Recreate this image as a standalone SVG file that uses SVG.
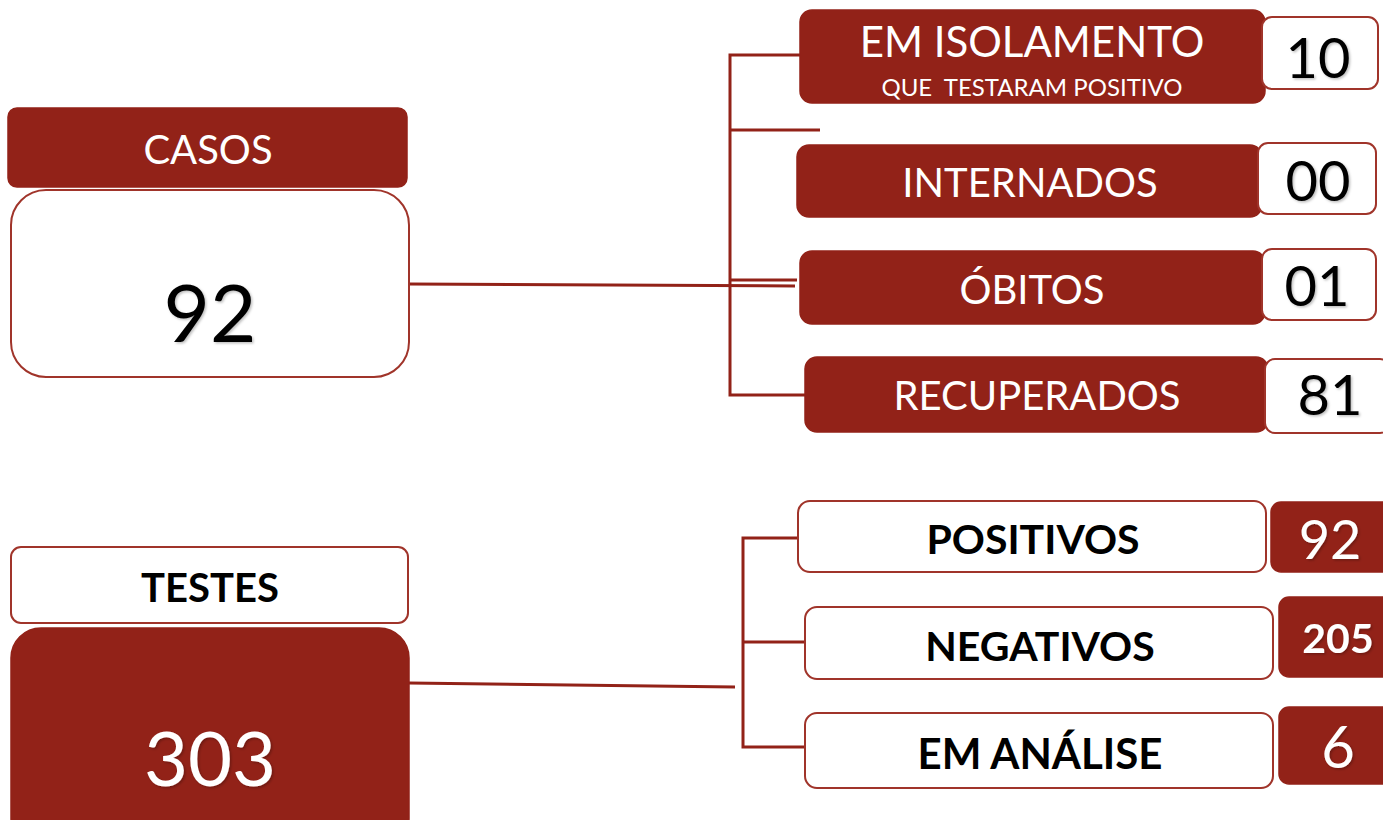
<svg xmlns="http://www.w3.org/2000/svg" width="1383" height="820" viewBox="0 0 1383 820">
<defs>
<filter id="sh" x="-10%" y="-10%" width="130%" height="130%">
<feDropShadow dx="1.5" dy="1.5" stdDeviation="1" flood-color="#000000" flood-opacity="0.25"/>
</filter>
</defs>
<style>
.red{fill:#922218;stroke:#922218;stroke-width:1.5}
.wht{fill:#ffffff;stroke:#a0342a;stroke-width:2}
.ln{stroke:#922218;stroke-width:3;fill:none}
.t{font-family:Lato,"Open Sans","Liberation Sans",sans-serif;text-anchor:middle}
.w{fill:#ffffff}
.k{fill:#000000}
.b{font-weight:bold}
.n{filter:url(#sh)}
</style>
<rect width="1383" height="820" fill="#ffffff"/>
<g id="connectors">
<path class="ln" d="M409,284 L795,286"/>
<path class="ln" d="M730,280 L797,280"/>
<path class="ln" d="M800,55 L730,55 L730,395 L805,395"/>
<path class="ln" d="M730,130 L820,130"/>
<path class="ln" d="M409,683 L735,687"/>
<path class="ln" d="M800,538 L743,538 L743,747 L805,747"/>
<path class="ln" d="M743,642 L805,642"/>
</g>
<g id="casos-header">
<rect class="red" x="8" y="108" width="399" height="79" rx="9"/>
<text class="t w" x="208" y="164" font-size="40">CASOS</text>
</g>
<g id="casos-value">
<rect class="wht" x="11" y="190" width="398" height="187" rx="35"/>
<text class="t k n" x="210" y="342" font-size="80">92</text>
</g>
<g id="isolamento">
<rect class="red" x="800" y="10" width="465" height="93" rx="12"/>
<text class="t w" x="1032" y="57" font-size="42">EM ISOLAMENTO</text>
<text class="t w" x="1032" y="96" font-size="24" xml:space="preserve">QUE  TESTARAM POSITIVO</text>
</g>
<g id="isolamento-value">
<rect class="wht" x="1262" y="17" width="116" height="72" rx="10"/>
<text class="t k n" x="1318" y="78" font-size="56">10</text>
</g>
<g id="internados">
<rect class="red" x="797" y="145" width="465" height="72" rx="12"/>
<text class="t w" x="1030" y="197" font-size="40">INTERNADOS</text>
</g>
<g id="internados-value">
<rect class="wht" x="1258" y="143" width="118" height="71" rx="10"/>
<text class="t k n" x="1318" y="201" font-size="56">00</text>
</g>
<g id="obitos">
<rect class="red" x="800" y="251" width="465" height="73" rx="12"/>
<text class="t w" x="1032" y="304" font-size="40">ÓBITOS</text>
</g>
<g id="obitos-value">
<rect class="wht" x="1262" y="249" width="114" height="71" rx="10"/>
<text class="t k n" x="1317" y="306" font-size="56">01</text>
</g>
<g id="recuperados">
<rect class="red" x="805" y="357" width="463" height="75" rx="12"/>
<text class="t w" x="1037" y="410" font-size="40">RECUPERADOS</text>
</g>
<g id="recuperados-value">
<rect class="wht" x="1265" y="359" width="125" height="74" rx="10"/>
<text class="t k n" x="1330" y="415" font-size="56">81</text>
</g>
<g id="testes-header">
<rect class="wht" x="11" y="547" width="397" height="76" rx="10"/>
<text class="t k b" x="210" y="602" font-size="40">TESTES</text>
</g>
<g id="testes-value">
<rect class="red" x="11" y="628" width="398" height="220" rx="30"/>
<text class="t w n" x="210" y="786" font-size="76">303</text>
</g>
<g id="positivos">
<rect class="wht" x="798" y="501" width="468" height="71" rx="12"/>
<text class="t k b" x="1033" y="554" font-size="41">POSITIVOS</text>
</g>
<g id="positivos-value">
<rect class="red" x="1271" y="502" width="125" height="70" rx="10"/>
<text class="t w n" x="1330" y="559" font-size="54">92</text>
</g>
<g id="negativos">
<rect class="wht" x="805" y="607" width="468" height="72" rx="12"/>
<text class="t k b" x="1040" y="661" font-size="41">NEGATIVOS</text>
</g>
<g id="negativos-value">
<rect class="red" x="1279" y="597" width="115" height="80" rx="10"/>
<text class="t w b n" x="1338" y="653" font-size="41">205</text>
</g>
<g id="em-analise">
<rect class="wht" x="805" y="713" width="468" height="75" rx="12"/>
<text class="t k b" x="1040" y="769" font-size="42">EM ANÁLISE</text>
</g>
<g id="em-analise-value">
<rect class="red" x="1279" y="707" width="115" height="77" rx="10"/>
<text class="t w n" x="1338" y="768" font-size="58">6</text>
</g>
</svg>
